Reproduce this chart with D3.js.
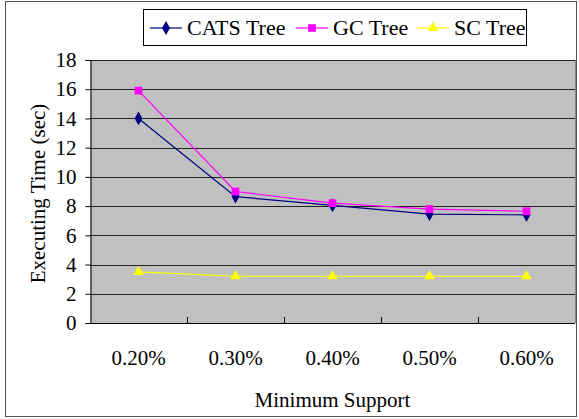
<!DOCTYPE html>
<html>
<head>
<meta charset="utf-8">
<script src="https://cdn.jsdelivr.net/npm/d3@7"></script>
<style>
  body { margin: 0; background: #fff; }
  svg text { font-family: "Liberation Serif", "Times New Roman", serif; }
</style>
</head>
<body>
<div class="chart"></div>
<script>
const categories = ["0.20%", "0.30%", "0.40%", "0.50%", "0.60%"]
const catsTree = [14.0, 8.65, 8.05, 7.45, 7.4]
const gcTree = [15.9, 9.0, 8.2, 7.8, 7.65]
const scTree = [3.5, 3.2, 3.2, 3.2, 3.2]
const yTicks = [0, 2, 4, 6, 8, 10, 12, 14, 16, 18]

const width = 579
const height = 419
const margin = { top: 60, right: 4, bottom: 96, left: 90 }

const series = [
    { name: "CATS Tree", values: catsTree, color: "#000080", symbol: d3.symbolDiamond, size: 55 },
    { name: "GC Tree", values: gcTree, color: "#ff00ff", symbol: d3.symbolSquare, size: 60 },
    { name: "SC Tree", values: scTree, color: "#ffff00", symbol: d3.symbolTriangle, size: 50 }
]

const svg = d3.select(".chart")
    .append("svg")
    .attr("width", width)
    .attr("height", height)

// outer frame
svg.append("rect")
    .attr("x", 5.5).attr("y", 1.5)
    .attr("width", width - 8).attr("height", height - 4)
    .attr("fill", "#fff")
    .attr("stroke", "#555")

const x = d3.scaleBand()
    .domain(categories)
    .range([margin.left, width - margin.right])

const y = d3.scaleLinear()
    .domain([0, 18])
    .range([height - margin.bottom, margin.top])

// plot area
svg.append("rect")
    .attr("x", margin.left)
    .attr("y", margin.top)
    .attr("width", width - margin.right - margin.left)
    .attr("height", height - margin.bottom - margin.top)
    .attr("fill", "#c0c0c0")

svg.append("g")
    .selectAll("line")
    .data(yTicks.slice(1))
    .join("line")
    .attr("x1", margin.left)
    .attr("x2", width - margin.right)
    .attr("y1", d => Math.round(y(d)) + 0.5)
    .attr("y2", d => Math.round(y(d)) + 0.5)
    .attr("stroke", "#222")

// right border of plot
svg.append("line")
    .attr("x1", width - margin.right + 0.5).attr("x2", width - margin.right + 0.5)
    .attr("y1", margin.top).attr("y2", height - margin.bottom)
    .attr("stroke", "#888")

const yAxis = d3.axisLeft(y).tickValues(yTicks).tickSize(5).tickPadding(9)
const gy = svg.append("g")
    .attr("transform", `translate(${margin.left + 0.5}, 0)`)
    .call(yAxis)
    .attr("font-family", null)
gy.selectAll("text").attr("font-size", 21).attr("fill", "#000")
gy.selectAll("line").attr("stroke", "#000")
gy.select(".domain").attr("stroke", "#000")

const xAxis = d3.axisBottom(x).tickSize(0).tickPadding(27)
const gx = svg.append("g")
    .attr("transform", `translate(0, ${height - margin.bottom + 0.5})`)
    .call(xAxis)
    .attr("font-family", null)
gx.select(".domain").attr("d", `M${margin.left},0H${width - margin.right}`).attr("stroke", "#000")
gx.selectAll("text").attr("font-size", 21).attr("fill", "#000")

// tick marks between categories
svg.append("g")
    .selectAll("line")
    .data(categories.slice(1))
    .join("line")
    .attr("x1", d => Math.round(x(d)) + 0.5)
    .attr("x2", d => Math.round(x(d)) + 0.5)
    .attr("y1", height - margin.bottom)
    .attr("y2", height - margin.bottom - 6)
    .attr("stroke", "#000")

const line = d3.line()
    .x((d, i) => x(categories[i]) + x.bandwidth() / 2)
    .y(d => y(d))

series.forEach(s => {
    svg.append("path")
        .datum(s.values)
        .attr("d", line)
        .attr("fill", "none")
        .attr("stroke", s.color)
        .attr("stroke-width", 1.2)

    svg.append("g")
        .selectAll("path")
        .data(s.values)
        .join("path")
        .attr("transform", (d, i) => `translate(${x(categories[i]) + x.bandwidth() / 2}, ${y(d)})`)
        .attr("d", d3.symbol(s.symbol, s.size))
        .attr("fill", s.color)
})

// axis titles
svg.append("text")
    .text("Executing Time (sec)")
    .attr("transform", `translate(45, ${(margin.top + height - margin.bottom) / 2 + 2}) rotate(-90)`)
    .attr("text-anchor", "middle")
    .attr("font-size", 21)

svg.append("text")
    .text("Minimum Support")
    .attr("x", (margin.left + width - margin.right) / 2)
    .attr("y", 407)
    .attr("text-anchor", "middle")
    .attr("font-size", 21)

// legend
svg.append("rect")
    .attr("x", 143.5).attr("y", 9.5)
    .attr("width", 383).attr("height", 36)
    .attr("fill", "#fff")
    .attr("stroke", "#000")

const legendX = [150, 296, 417]
series.forEach((s, i) => {
    const g = svg.append("g").attr("transform", `translate(${legendX[i]}, 28)`)
    g.append("line")
        .attr("x1", 0).attr("x2", 32)
        .attr("stroke", s.color).attr("stroke-width", 1.2)
    g.append("path")
        .attr("transform", "translate(16,0)")
        .attr("d", d3.symbol(s.symbol, s.size))
        .attr("fill", s.color)
    g.append("text")
        .text(s.name)
        .attr("x", 37)
        .attr("y", 7)
        .attr("font-size", 22)
})
</script>
</body>
</html>
